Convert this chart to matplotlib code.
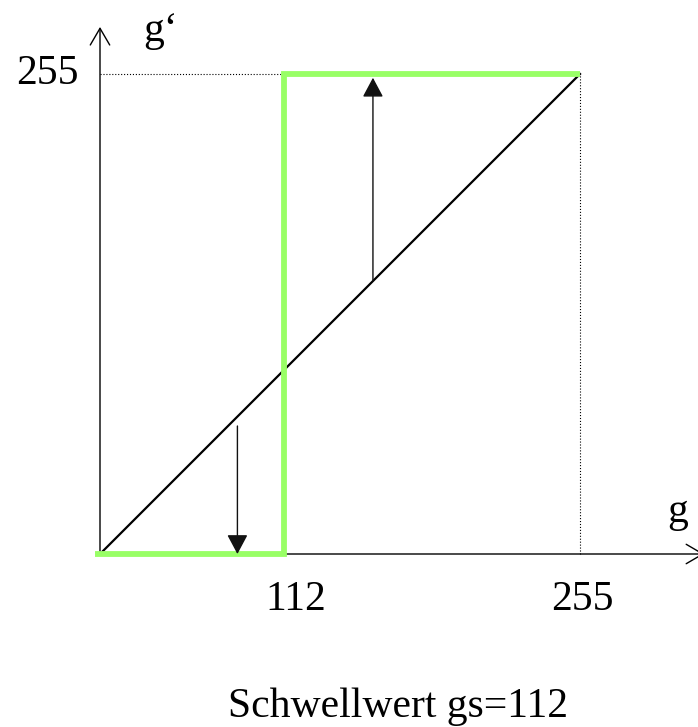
import numpy as np
import matplotlib.pyplot as plt
from matplotlib.patches import FancyArrowPatch

# threshold sketch: g' = 0 below gs, 255 above
g_max = 255
gs_label = "112"
gs_pos = 98          # where the threshold is drawn on the (not to scale) sketch

diag_x = [0, 255]
diag_y = [0, 255]

step_x = [-2.5, gs_pos, gs_pos, 255]
step_y = [0, 0, 255, 255]

tick_pos = [104, 256]
tick_labels = [gs_label, "255"]

# arrows: (x, y_start, y_end)
down_arrow = (73, 68, 0)
up_arrow = (145, 145, 253)

plt.rcParams['font.family'] = ['Liberation Serif', 'DejaVu Serif']

fig = plt.figure(figsize=(6.98, 7.27), dpi=100)
ax = fig.add_axes([0, 0, 1, 1])
s = 480 / 255   # px per unit
ax.set_xlim(-100 / s, 598 / s)
ax.set_ylim(-173 / s, 554 / s)
ax.axis("off")

# dotted helper lines
ax.plot([0, g_max], [g_max, g_max], linestyle=":", color="black", linewidth=0.8, zorder=1)
ax.plot([g_max, g_max], [0, g_max], linestyle=":", color="black", linewidth=0.8, zorder=1)

# axes with open arrow heads
for start, end in [((0, 0), (321, 0)), ((0, 0), (0, 280))]:
    ax.add_patch(FancyArrowPatch(start, end, arrowstyle="->,head_length=0.6,head_width=0.35",
                                 mutation_scale=20, color="black", linewidth=1.0,
                                 shrinkA=0, shrinkB=0, zorder=2, clip_on=False))

# identity line
ax.plot(diag_x, diag_y, color="black", linewidth=1.6, zorder=3)

# threshold step
ax.plot(step_x, step_y, color="#99ff66", linewidth=4.2, solid_capstyle="butt",
        solid_joinstyle="miter", zorder=4)

# arrows showing where values go
for x, y0, y1 in [down_arrow, up_arrow]:
    ax.add_patch(FancyArrowPatch((x, y0), (x, y1), arrowstyle="-|>,head_length=0.6,head_width=0.32",
                                 mutation_scale=20, color="#111111", linewidth=1.0,
                                 shrinkA=0, shrinkB=0, zorder=5))

fs = 30
for p, lab in zip(tick_pos, tick_labels):
    ax.text(p, -24.4, lab, ha="center", va="center", fontsize=fs)
ax.text(-28.2, g_max, "255", ha="center", va="center", fontsize=fs)
ax.text(32.4, 278, "g\u2018", ha="center", va="center", fontsize=fs)
ax.text(306.6, 22.3, "g", ha="center", va="center", fontsize=fs)
ax.text(158.3, -81.0, "Schwellwert gs=" + gs_label, ha="center", va="center", fontsize=fs)

plt.savefig("out.png", dpi=100)
